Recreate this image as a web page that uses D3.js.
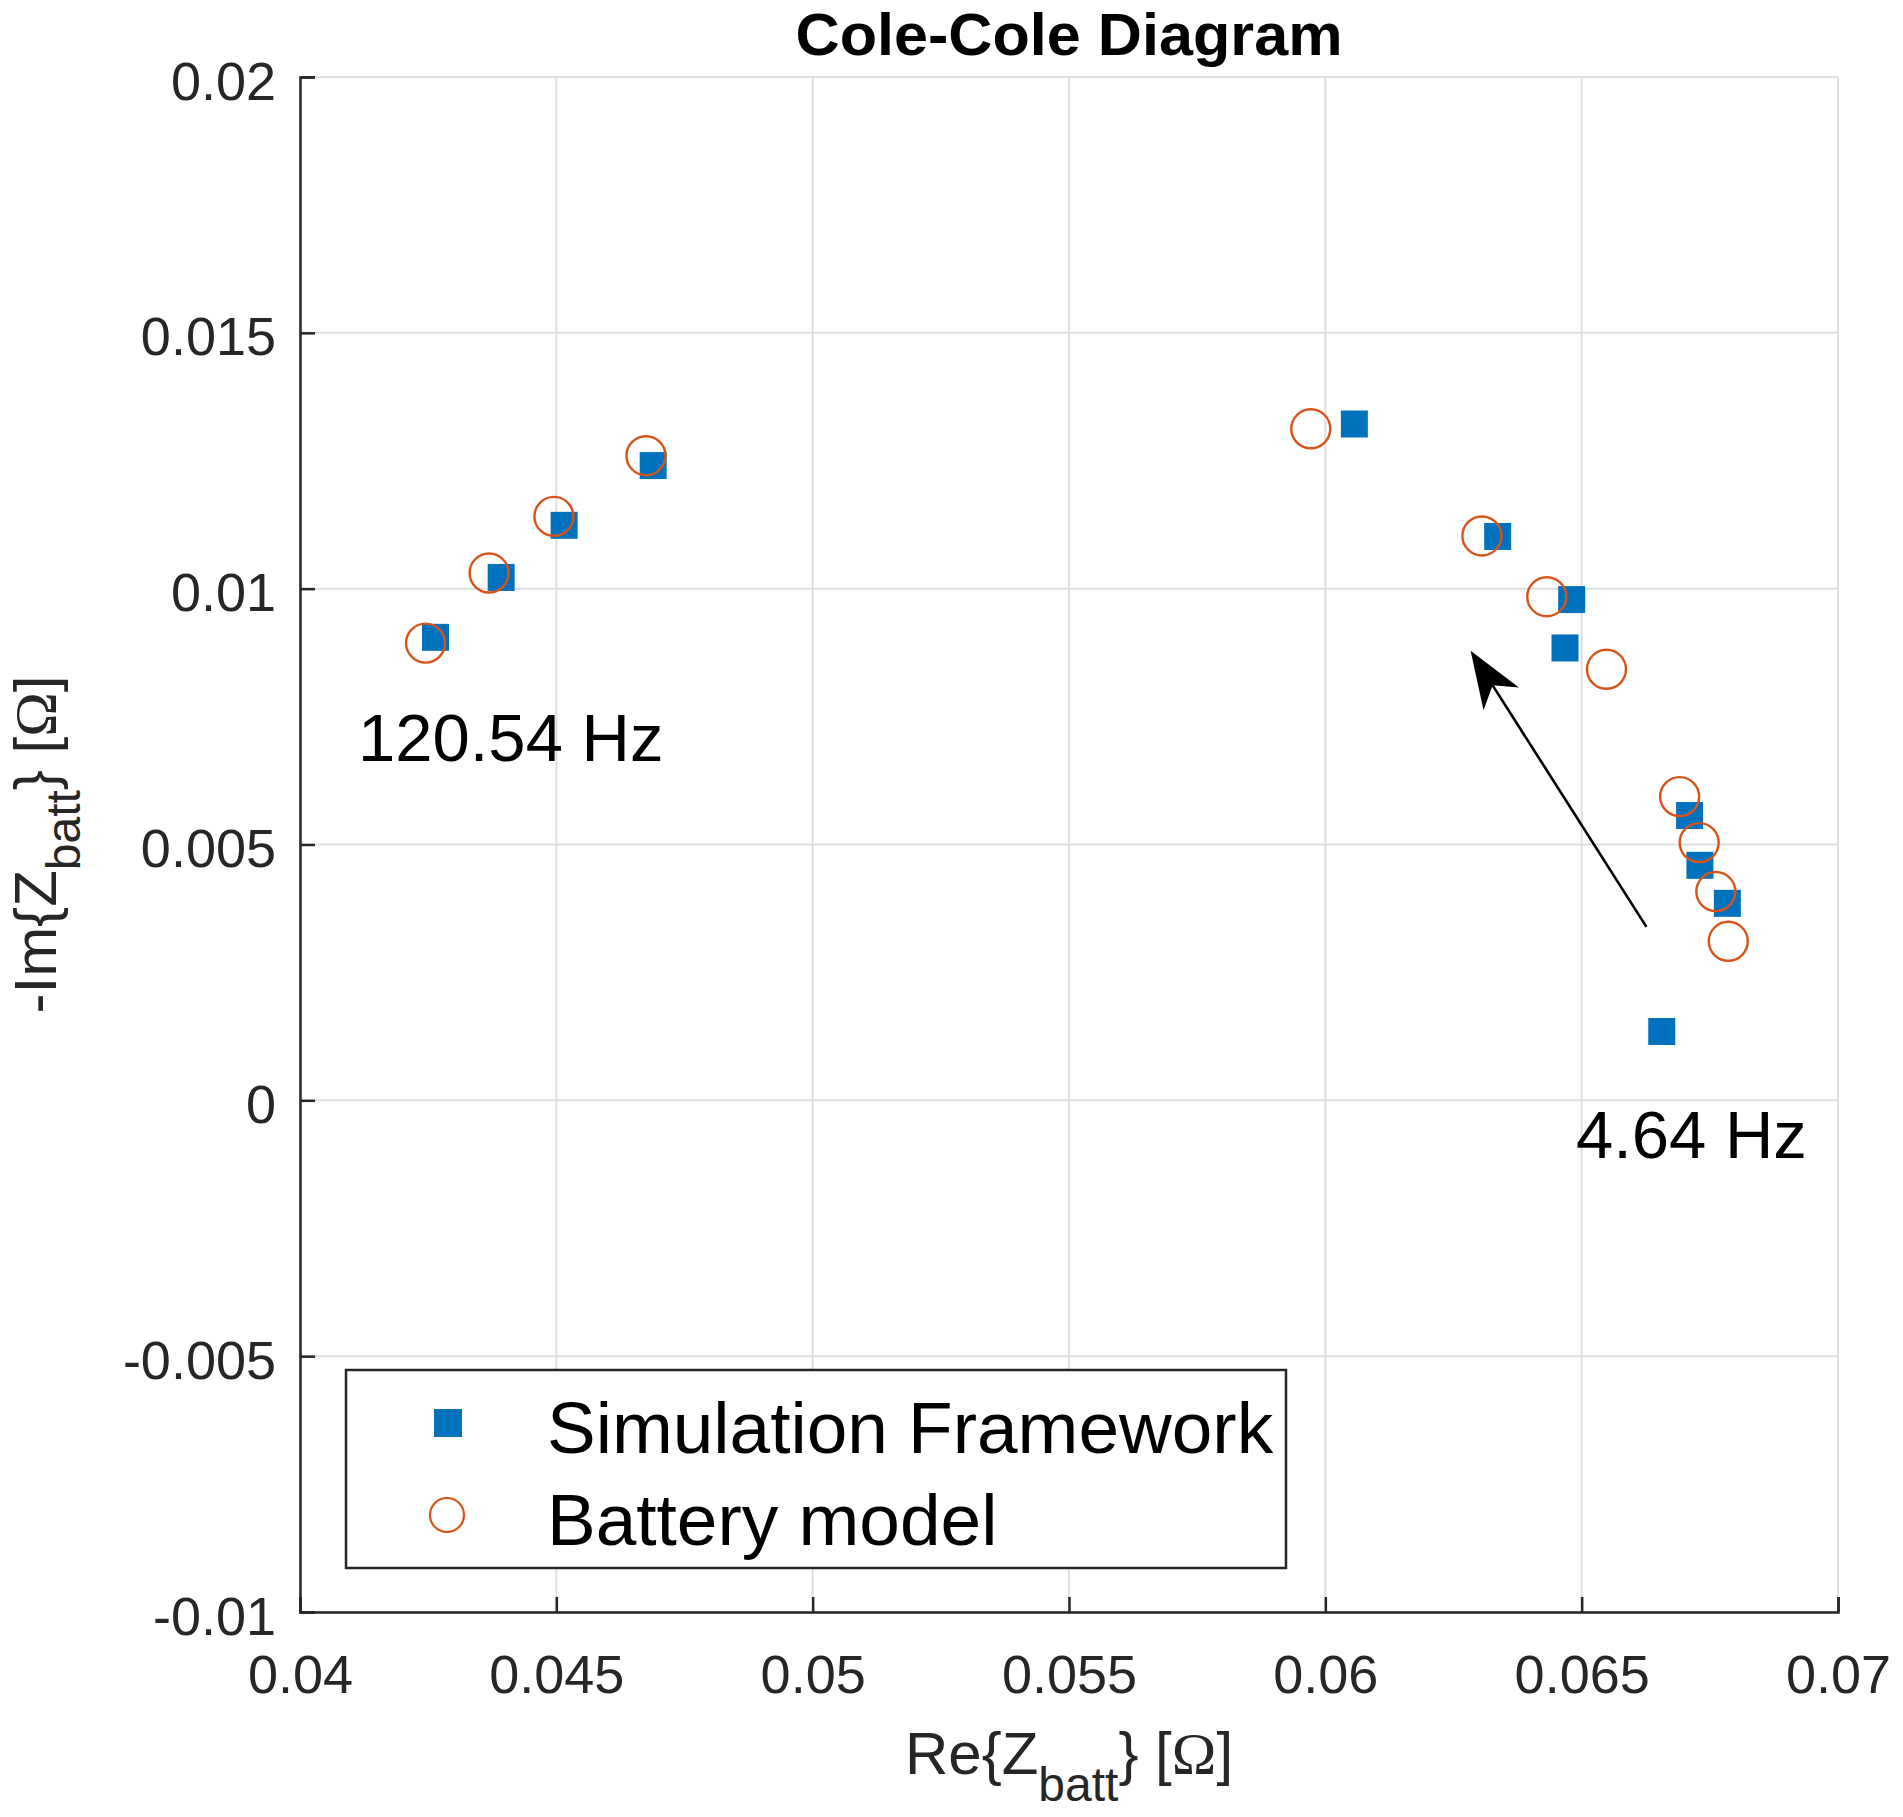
<!DOCTYPE html>
<html>
<head>
<meta charset="utf-8">
<script src="https://cdn.jsdelivr.net/npm/d3@7"></script>
<style>
  html, body { margin: 0; padding: 0; background: #fff; }
  svg { display: block; font-family: "Liberation Sans", Arial, Helvetica, sans-serif; }
</style>
</head>
<body>
<div id="chart"></div>
<script>
// Cole-Cole (Nyquist) diagram: simulated vs. modelled battery impedance.

// Simulation Framework — Re{Z} and -Im{Z} in ohm
const simRe = [0.042643, 0.043924, 0.045152, 0.046889, 0.060566, 0.063362,
               0.064805, 0.064675, 0.067105, 0.067307, 0.067842, 0.066562];
const simIm = [0.009049, 0.010219, 0.011238, 0.012406, 0.013218, 0.011020,
               0.009787, 0.008841, 0.005566, 0.004593, 0.003850, 0.001345];

// Battery model
const modelRe = [0.042449, 0.043688, 0.044953, 0.046748, 0.059716, 0.063054,
                 0.064319, 0.065484, 0.066911, 0.067292, 0.067617, 0.067860];
const modelIm = [0.008936, 0.010305, 0.011412, 0.012598, 0.013125, 0.011030,
                 0.009843, 0.008424, 0.005936, 0.005037, 0.004081, 0.003108];

const xTicks = [0.04, 0.045, 0.05, 0.055, 0.06, 0.065, 0.07];
const xTickLabels = ["0.04", "0.045", "0.05", "0.055", "0.06", "0.065", "0.07"];
const yTicks = [-0.01, -0.005, 0, 0.005, 0.01, 0.015, 0.02];
const yTickLabels = ["-0.01", "-0.005", "0", "0.005", "0.01", "0.015", "0.02"];

// frequency labels and the direction arrow, in data units
const freqLabels = [
  { text: "120.54 Hz", re: 0.041131, im: 0.006626 },
  { text: "4.64 Hz", re: 0.064888, im: -0.001134 }
];
const arrowFrom = [0.066263, 0.003391];
const arrowTo = [0.062834, 0.008786];

const legendItems = [
  { label: "Simulation Framework", kind: "square" },
  { label: "Battery model", kind: "circle" }
];

const BLUE = "#0072BD";
const ORANGE = "#D95319";
const AXIS = "#262626";

const W = 1903, H = 1817;
const margin = { top: 77, right: 65, bottom: 205, left: 300 };
const innerW = W - margin.left - margin.right;
const innerH = H - margin.top - margin.bottom;

const svg = d3.select("#chart").append("svg")
  .attr("width", W).attr("height", H)
  .attr("viewBox", `0 0 ${W} ${H}`);

svg.append("rect").attr("width", W).attr("height", H).attr("fill", "#fff");

const g = svg.append("g").attr("transform", `translate(${margin.left},${margin.top})`);

const x = d3.scaleLinear().domain([0.04, 0.07]).range([0, innerW]);
const y = d3.scaleLinear().domain([-0.01, 0.02]).range([innerH, 0]);

// grid
const grid = g.append("g").attr("class", "grid");
grid.selectAll("line.gx").data(xTicks).enter().append("line")
  .attr("x1", d => x(d)).attr("x2", d => x(d))
  .attr("y1", 0).attr("y2", innerH)
  .attr("stroke", "#dfdfdf").attr("stroke-width", 2);
grid.selectAll("line.gy").data(yTicks).enter().append("line")
  .attr("x1", 0).attr("x2", innerW)
  .attr("y1", d => y(d)).attr("y2", d => y(d))
  .attr("stroke", "#dfdfdf").attr("stroke-width", 2);

// axes (ticks pointing inward, box off)
const xAxis = g.append("g").attr("transform", `translate(0,${innerH})`)
  .call(d3.axisBottom(x).tickValues(xTicks)
    .tickFormat((d, i) => xTickLabels[i])
    .tickSize(-15).tickPadding(43));
const yAxis = g.append("g")
  .call(d3.axisLeft(y).tickValues(yTicks)
    .tickFormat((d, i) => yTickLabels[i])
    .tickSize(-15).tickPadding(24));

[xAxis, yAxis].forEach(a => {
  a.select(".domain").attr("stroke", AXIS).attr("stroke-width", 2.5);
  a.selectAll(".tick line").attr("stroke", AXIS).attr("stroke-width", 2.5);
  a.selectAll(".tick text")
    .attr("fill", AXIS)
    .style("font-size", "54px")
    .style("font-family", "'Liberation Sans', Arial, sans-serif");
});
yAxis.selectAll(".tick text").attr("dy", "0.41em");

// data markers
const SQ = 27;
const sim = simRe.map((re, i) => ({ re, im: simIm[i] }));
const model = modelRe.map((re, i) => ({ re, im: modelIm[i] }));

g.append("g").selectAll("rect").data(sim).enter().append("rect")
  .attr("x", d => x(d.re) - SQ / 2)
  .attr("y", d => y(d.im) - SQ / 2)
  .attr("width", SQ).attr("height", SQ)
  .attr("fill", BLUE);

g.append("g").selectAll("circle").data(model).enter().append("circle")
  .attr("cx", d => x(d.re))
  .attr("cy", d => y(d.im))
  .attr("r", 19.5)
  .attr("fill", "none")
  .attr("stroke", ORANGE)
  .attr("stroke-width", 2.4);

// frequency annotations
g.append("g").selectAll("text").data(freqLabels).enter().append("text")
  .attr("x", d => x(d.re))
  .attr("y", d => y(d.im))
  .attr("fill", "#000")
  .style("font-size", "67px")
  .text(d => d.text);

// arrow: line + notched head
const tx = x(arrowFrom[0]), ty = y(arrowFrom[1]);
const hx = x(arrowTo[0]), hy = y(arrowTo[1]);
const len = Math.hypot(tx - hx, ty - hy);
const ux = (tx - hx) / len, uy = (ty - hy) / len;
const px = -uy, py = ux;
const headLen = 57, headHalf = 21, notch = 41;
const arrow = g.append("g");
arrow.append("line")
  .attr("x1", tx).attr("y1", ty)
  .attr("x2", hx + ux * notch).attr("y2", hy + uy * notch)
  .attr("stroke", "#000").attr("stroke-width", 2.6);
arrow.append("path")
  .attr("d", [
    `M${hx},${hy}`,
    `L${hx + ux * headLen + px * headHalf},${hy + uy * headLen + py * headHalf}`,
    `L${hx + ux * notch},${hy + uy * notch}`,
    `L${hx + ux * headLen - px * headHalf},${hy + uy * headLen - py * headHalf}`,
    "Z"
  ].join(" "))
  .attr("fill", "#000");

// legend
const legend = svg.append("g").attr("transform", "translate(346,1370)");
legend.append("rect")
  .attr("width", 940).attr("height", 198)
  .attr("fill", "#fff")
  .attr("stroke", AXIS).attr("stroke-width", 2.5);
const rows = legend.selectAll("g.row").data(legendItems).enter().append("g")
  .attr("transform", (d, i) => `translate(0,${53 + i * 92})`);
rows.each(function (d) {
  const r = d3.select(this);
  if (d.kind === "square") {
    r.append("rect").attr("x", 102 - 14).attr("y", -14)
      .attr("width", 28).attr("height", 28).attr("fill", BLUE);
  } else {
    r.append("circle").attr("cx", 101).attr("cy", 0).attr("r", 17)
      .attr("fill", "none").attr("stroke", ORANGE).attr("stroke-width", 2.2);
  }
  r.append("text").attr("x", 201).attr("y", 30)
    .attr("fill", "#000")
    .style("font-size", "73px")
    .text(d.label);
});

// title
svg.append("text")
  .attr("x", margin.left + innerW / 2).attr("y", 55)
  .attr("text-anchor", "middle")
  .attr("fill", "#000")
  .style("font-size", "60px").style("font-weight", "bold")
  .attr("textLength", 547).attr("lengthAdjust", "spacingAndGlyphs")
  .text("Cole-Cole Diagram");

// axis labels with subscript, Ω set in a serif face as in the original
function subLabel(sel, pre, sub, shift) {
  sel.append("tspan").text(pre);
  sel.append("tspan").attr("dy", shift).style("font-size", "48px").text(sub);
  sel.append("tspan").attr("dy", -shift).text("} [");
  sel.append("tspan").style("font-family", "'Liberation Serif', 'Times New Roman', serif").text("Ω");
  sel.append("tspan").text("]");
}

const xl = svg.append("text")
  .attr("x", margin.left + innerW / 2).attr("y", 1774)
  .attr("text-anchor", "middle")
  .attr("fill", AXIS)
  .style("font-size", "60px");
subLabel(xl, "Re{Z", "batt", 27);

const yl = svg.append("text")
  .attr("transform", `translate(56,${margin.top + innerH / 2}) rotate(-90)`)
  .attr("text-anchor", "middle")
  .attr("fill", AXIS)
  .style("font-size", "60px");
subLabel(yl, "-Im{Z", "batt", 24);
</script>
</body>
</html>
